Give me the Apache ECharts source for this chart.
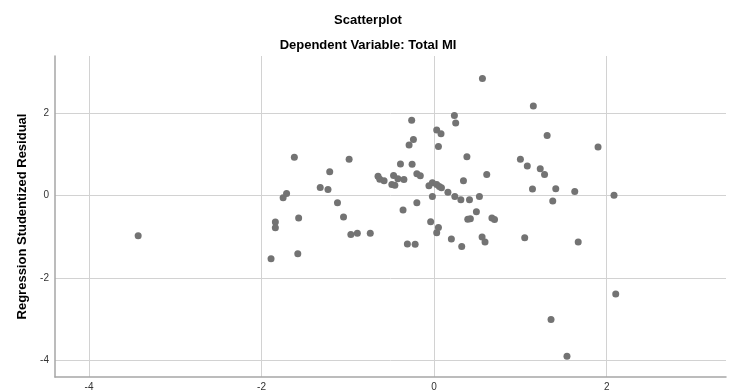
<!DOCTYPE html>
<html>
<head>
<meta charset="utf-8">
<script src="https://cdn.jsdelivr.net/npm/echarts@6/dist/echarts.min.js"></script>
<style>
  html, body { margin: 0; padding: 0; background: #fff; }
  #chart { width: 731px; height: 392px; }
</style>
</head>
<body>
<div id="chart"></div>
<script>
// regression standardized predicted value (x) vs studentized residual (y)
const predicted = [
  0.56, 0.235, 0.25, -0.26, 0.03, 0.08, -0.24, -0.29, 0.05, -1.62,
  -0.985, 0.38, -0.39, -0.255, -1.21, 0.61, -0.65, -0.63, -0.58, -0.47,
  -0.42, -0.35, -0.20, -0.16, -0.49, -0.455, 0.34, -1.32, -1.23, -0.06,
  -0.02, 0.03, 0.06, 0.085, 0.16, 0.24, 0.31, 0.41, 0.525, -0.02,
  -1.75, -1.71, -1.12, -0.20, -0.36, -1.57, -1.05, 0.49, 0.39, 0.42,
  0.67, 0.70, -1.84, -1.84, -0.04, 0.05, 1.15, 1.31, 1.90, 1.00,
  1.08, 1.23, 1.28, 1.14, 1.41, 1.63, 1.375, 2.085, 0.03, -0.965,
  -0.89, -0.74, -0.31, -0.22, 0.20, 0.32, 0.556, 0.59, -1.89, -1.58,
  1.05, 1.67, 2.105, 1.355, 1.54, -3.43
];
const residual = [
  2.84, 1.94, 1.76, 1.83, 1.59, 1.50, 1.36, 1.23, 1.19, 0.93,
  0.88, 0.94, 0.77, 0.76, 0.58, 0.51, 0.47, 0.40, 0.36, 0.49,
  0.41, 0.39, 0.53, 0.48, 0.27, 0.25, 0.36, 0.20, 0.15, 0.24,
  0.31, 0.27, 0.22, 0.19, 0.08, -0.02, -0.10, -0.10, -0.02, -0.02,
  -0.05, 0.05, -0.17, -0.17, -0.35, -0.54, -0.52, -0.39, -0.57, -0.56,
  -0.54, -0.58, -0.64, -0.78, -0.63, -0.77, 2.17, 1.46, 1.18, 0.88,
  0.72, 0.65, 0.51, 0.16, 0.17, 0.10, -0.13, 0.01, -0.90, -0.94,
  -0.91, -0.91, -1.17, -1.18, -1.05, -1.23, -1.00, -1.12, -1.53, -1.41,
  -1.02, -1.12, -2.38, -3.00, -3.89, -0.97
];
const xTicks = [-4, -2, 0, 2];
const yTicks = [-4, -2, 0, 2];

const chart = echarts.init(document.getElementById('chart'));

const points = predicted.map((x, i) => [x, residual[i]]);
const gridColor = '#d2d2d2';
const axisColor = '#a6a6a6';
const fontFamily = '"Liberation Sans", Arial, sans-serif';

chart.setOption({
  animation: false,
  graphic: [
    {
      type: 'text', x: 368, y: 20,
      style: {
        text: 'Scatterplot', textAlign: 'center', textVerticalAlign: 'middle',
        font: 'bold 13px ' + fontFamily, fill: '#000'
      }
    },
    {
      type: 'text', x: 368, y: 45,
      style: {
        text: 'Dependent Variable: Total MI', textAlign: 'center', textVerticalAlign: 'middle',
        font: 'bold 13px ' + fontFamily, fill: '#000'
      }
    }
  ],
  grid: { left: 55, right: 5, top: 56, bottom: 14 },
  xAxis: {
    type: 'value',
    min: -4.394,
    max: 3.383,
    axisLine: { show: true, onZero: false, lineStyle: { color: axisColor, width: 1.5 } },
    axisTick: { show: false, customValues: xTicks },
    axisLabel: { customValues: xTicks, color: '#333', fontSize: 10, fontFamily, margin: 5 },
    splitLine: { show: true, lineStyle: { color: gridColor, width: 1 } }
  },
  yAxis: {
    type: 'value',
    min: -4.394,
    max: 3.384,
    name: 'Regression Studentized Residual',
    nameLocation: 'middle',
    nameRotate: 90,
    nameGap: 26,
    nameTextStyle: { fontSize: 13, fontWeight: 'bold', color: '#000', fontFamily },
    axisLine: { show: true, onZero: false, lineStyle: { color: axisColor, width: 1.5 } },
    axisTick: { show: false, customValues: yTicks },
    axisLabel: { customValues: yTicks, color: '#333', fontSize: 10, fontFamily, margin: 6 },
    splitLine: { show: true, lineStyle: { color: gridColor, width: 1 } }
  },
  series: [
    {
      type: 'scatter',
      data: points,
      symbolSize: 7,
      itemStyle: { color: '#737373', opacity: 1 }
    }
  ]
});
</script>
</body>
</html>
